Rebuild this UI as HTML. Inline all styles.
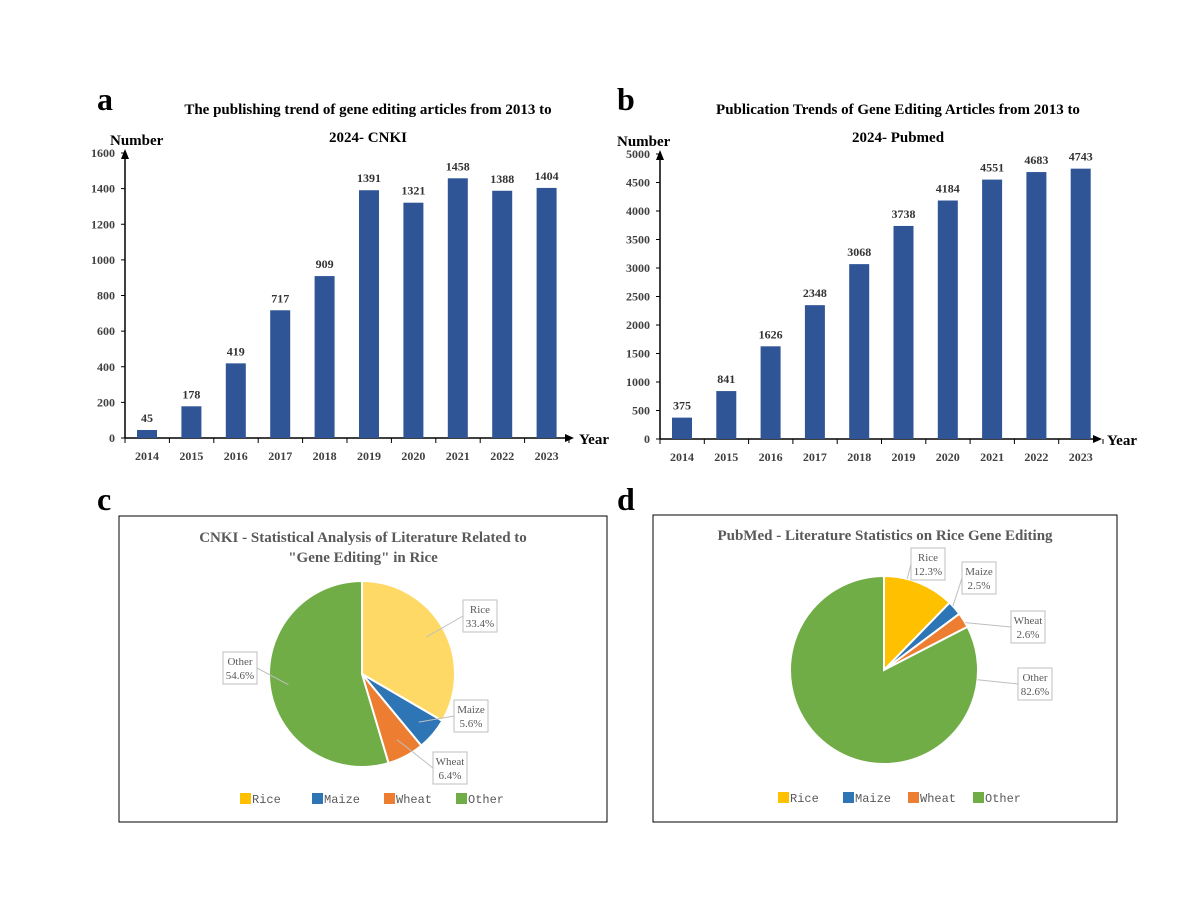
<!DOCTYPE html>
<html><head><meta charset="utf-8"><style>
body{margin:0;background:#fff;}
svg{display:block;font-family:"Liberation Serif",serif;}
</style></head><body>
<svg width="1200" height="900" viewBox="0 0 1200 900">
<g id="root"></g>
</svg>
<script>
const years = ["2014","2015","2016","2017","2018","2019","2020","2021","2022","2023"];
const cnkiValues = [45,178,419,717,909,1391,1321,1458,1388,1404];
const cnkiTicks = [0,200,400,600,800,1000,1200,1400,1600];
const pubmedValues = [375,841,1626,2348,3068,3738,4184,4551,4683,4743];
const pubmedTicks = [0,500,1000,1500,2000,2500,3000,3500,4000,4500,5000];
const pieCats = ["Rice","Maize","Wheat","Other"];
const cnkiShares = [33.4,5.6,6.4,54.6];
const pubmedShares = [12.3,2.5,2.6,82.6];

const NS="http://www.w3.org/2000/svg";
const root=document.getElementById('root');
function el(tag,attrs,parent,text){const e=document.createElementNS(NS,tag);for(const k in attrs)e.setAttribute(k,attrs[k]);if(text!==undefined)e.textContent=text;(parent||root).appendChild(e);return e;}

function barChart(o){
  const g=el('g',{});
  
  
  const yS=v=>o.y0-(v/o.max)*(o.y0-o.yTop);
  const xS=i=>o.xFirst+i*o.step;
  o.ticks.forEach(t=>{
    const tx=el('text',{x:o.ax-10,y:yS(t)+4,'text-anchor':'end','font-size':12,'font-weight':'bold',fill:'#404040'},g,t);
    
    
    el('line',{x1:o.ax-4,x2:o.ax,y1:yS(t),y2:yS(t),stroke:'#000','stroke-width':1},g);
  });
  const ya=el('line',{x1:o.ax,x2:o.ax,y1:o.y0,y2:o.yTop,stroke:'#000','stroke-width':1.5},g);
  
  
  el('polygon',{points:`${o.ax-4},${o.yTop+6} ${o.ax+4},${o.yTop+6} ${o.ax},${o.yTop-4}`,fill:'#000'},g);
  const xa=el('line',{x1:o.ax,x2:o.xEnd,y1:o.y0,y2:o.y0,stroke:'#000','stroke-width':1.5},g);
  
  
  el('polygon',{points:`${o.xEnd},${o.y0-4} ${o.xEnd},${o.y0+4} ${o.xEnd+9},${o.y0}`,fill:'#000'},g);
  for(let i=0;i<=o.cats.length;i++){const x=o.ax+i*o.step;el('line',{x1:x,x2:x,y1:o.y0,y2:o.y0+5,stroke:'#000'},g);}
  o.cats.forEach((c,i)=>{
    const x=xS(i),v=o.vals[i];
    const r=el('rect',{x:x-10,y:yS(v),width:20,height:o.y0-yS(v),fill:'#2f5597'},g);
    
    
    const vl=el('text',{x:x,y:yS(v)-8,'text-anchor':'middle','font-size':12,'font-weight':'bold',fill:'#333'},g,v);
    
    
    const cl=el('text',{x:x,y:o.y0+22,'text-anchor':'middle','font-size':12,'font-weight':'bold',fill:'#404040'},g,c);
    
    
  });
  const yt=el('text',{x:o.numX,y:o.yTop-8,'font-size':15,'font-weight':'bold',fill:'#000'},g,'Number');
  
  
  const xt=el('text',{x:o.xEnd+14,y:o.y0+6,'font-size':15,'font-weight':'bold',fill:'#000'},g,'Year');
  
  
  o.title.forEach((t,i)=>{
    const tt=el('text',{x:o.titleX,y:o.titleY+i*28,'text-anchor':'middle','font-size':15,'font-weight':'bold',fill:'#000'},g,t);
    
    
  });
  const pl=el('text',{x:o.letterX,y:110,'font-size':32,'font-weight':'bold',fill:'#000'},g,o.letter);
  
  
}
barChart({name:'cnki-bar-chart',cats:years,vals:cnkiValues,ticks:cnkiTicks,max:1600,ax:125,y0:438,yTop:153,xFirst:147,step:44.4,xEnd:565,numX:110,title:["The publishing trend of gene editing articles from 2013 to","2024- CNKI"],titleX:368,titleY:114,letter:'a',letterX:97});
barChart({name:'pubmed-bar-chart',cats:years,vals:pubmedValues,ticks:pubmedTicks,max:5000,ax:660,y0:439,yTop:154,xFirst:682,step:44.3,xEnd:1093,numX:617,title:["Publication Trends of Gene Editing Articles from 2013 to","2024- Pubmed"],titleX:898,titleY:114,letter:'b',letterX:617});

function pie(o){
  const g=el('g',{});
  
  
  const b=el('rect',{x:o.bx,y:o.by,width:o.bw,height:o.bh,fill:'#fff',stroke:'#000','stroke-width':1},g);
  
  
  o.title.forEach((t,i)=>{
    const tt=el('text',{x:o.bx+o.bw/2,y:o.titleY+i*20,'text-anchor':'middle','font-size':15,'font-weight':'bold',fill:'#595959'},g,t);
    
    
  });
  const tot=o.vals.reduce((a,b)=>a+b,0);
  let a0=0;
  o.vals.forEach((v,i)=>{
    const a1=a0+v/tot*2*Math.PI;
    const p=a=>[o.cx+o.r*Math.sin(a),o.cy-o.r*Math.cos(a)];
    const [x0,y0]=p(a0),[x1,y1]=p(a1);
    const large=(a1-a0)>Math.PI?1:0;
    const s=el('path',{d:`M${o.cx},${o.cy} L${x0},${y0} A${o.r},${o.r} 0 ${large} 1 ${x1},${y1} Z`,fill:o.colors[i],stroke:'#fff','stroke-width':2},g);
    
    
    const [lx,ly]=o.labels[i];
    let am=(a0+a1)/2;
    if(o.toward){
      let dir=Math.atan2(lx-o.cx,-(ly+12-o.cy)); if(dir<0)dir+=2*Math.PI;
      am=Math.min(Math.max(dir,a0+0.05),a1-0.05);
    }
    const ax=o.cx+o.r*o.anchorR*Math.sin(am), ay=o.cy-o.r*o.anchorR*Math.cos(am);
    el('line',{x1:ax,y1:ay,x2:lx+(lx<o.cx?34:0),y2:ly+12,stroke:'#bfbfbf','stroke-width':1},g);
    const lb=el('rect',{x:lx,y:ly-4,width:34,height:32,fill:'#fff',stroke:'#bfbfbf'},g);
    
    
    const t1=el('text',{x:lx+17,y:ly+9,'text-anchor':'middle','font-size':11,fill:'#595959'},g,o.cats[i]);
    
    
    const t2=el('text',{x:lx+17,y:ly+23,'text-anchor':'middle','font-size':11,fill:'#595959'},g,v.toFixed(1)+'%');
    
    
    a0=a1;
  });
  o.cats.forEach((c,i)=>{
    const x=o.legX+i*o.legStep;
    const sw=el('rect',{x:x,y:o.legY-10,width:11,height:11,fill:o.legColors[i]},g);
    
    
    const lt=el('text',{x:x+12,y:o.legY,'font-size':12,'font-family':'"Liberation Mono",monospace',fill:'#595959'},g,c);
    
    
  });
  const pl=el('text',{x:o.letterX,y:510,'font-size':32,'font-weight':'bold',fill:'#000'},g,o.letter);
  
  
}
pie({name:'cnki-pie-chart',bx:119,by:516,bw:488,bh:306,title:['CNKI - Statistical Analysis of Literature Related to','"Gene Editing" in Rice'],titleY:542,cx:362,cy:674,r:93,anchorR:0.8,toward:false,vals:cnkiShares,cats:pieCats,
  colors:['#ffd966','#2e75b6','#ed7d31','#70ad47'],legColors:['#ffc000','#2e75b6','#ed7d31','#70ad47'],
  labels:[[463,604],[454,704],[433,756],[223,656]],legX:240,legStep:72,legY:803,letter:'c',letterX:97});
pie({name:'pubmed-pie-chart',bx:653,by:515,bw:464,bh:307,title:['PubMed - Literature Statistics on Rice Gene Editing'],titleY:540,cx:884,cy:670,r:94,anchorR:1.0,toward:true,vals:pubmedShares,cats:pieCats,
  colors:['#ffc000','#2e75b6','#ed7d31','#70ad47'],legColors:['#ffc000','#2e75b6','#ed7d31','#70ad47'],
  labels:[[911,552],[962,566],[1011,615],[1018,672]],legX:778,legStep:65,legY:802,letter:'d',letterX:617});
</script>
</body></html>
